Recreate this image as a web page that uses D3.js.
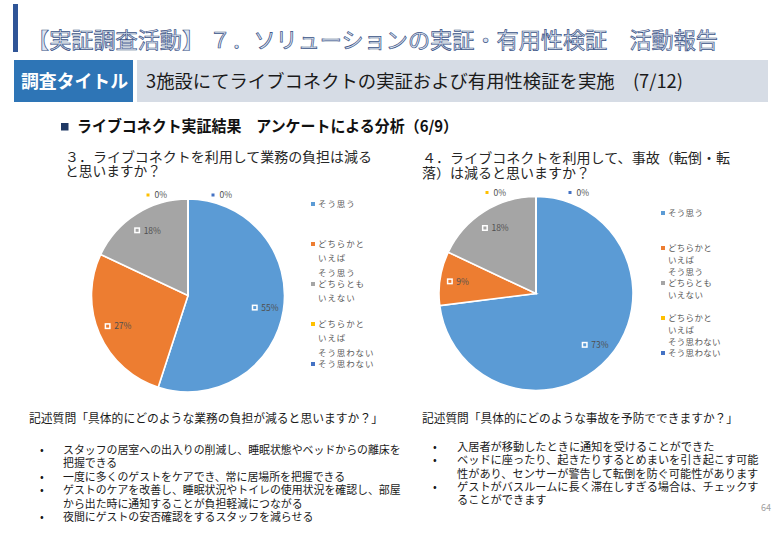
<!DOCTYPE html>
<html><head><meta charset="utf-8">
<script src="https://cdn.jsdelivr.net/npm/d3@7/dist/d3.min.js"></script>
<style>
html,body{margin:0;padding:0;background:#fff;}
svg{display:block;font-family:"Noto Sans CJK JP","Noto Sans",sans-serif;}
</style></head>
<body>
<svg id="chart" width="780" height="540"></svg>
<script>
// ---- data ----
const categories = ["そう思う","どちらかといえばそう思う","どちらともいえない","どちらかといえばそう思わない","そう思わない"];
const legendLines = [["そう思う"],["どちらかと","いえば","そう思う"],["どちらとも","いえない"],["どちらかと","いえば","そう思わない"],["そう思わない"]];
const q3Values = [55, 27, 18, 0, 0];
const q4Values = [73, 9, 18, 0, 0];
const colors = ["#5b9bd5","#ed7d31","#a5a5a5","#ffc000","#4472c4"];
const pageTitle = "【実証調査活動】 ７．ソリューションの実証・有用性検証　活動報告";
const tagLabel = "調査タイトル";
const surveyTitle = "3施設にてライブコネクトの実証および有用性検証を実施　(7/12)";
const sectionTitle = "ライブコネクト実証結果　アンケートによる分析（6/9）";
const q3Lines = ["３．ライブコネクトを利用して業務の負担は減る","と思いますか？"];
const q4Lines = ["４．ライブコネクトを利用して、事故（転倒・転","落）は減ると思いますか？"];
const q3Free = "記述質問「具体的にどのような業務の負担が減ると思いますか？」";
const q4Free = "記述質問「具体的にどのような事故を予防でできますか？」";
const q3Bullets = [
  ["スタッフの居室への出入りの削減し、睡眠状態やベッドからの離床を","把握できる"],
  ["一度に多くのゲストをケアでき、常に居場所を把握できる"],
  ["ゲストのケアを改善し、睡眠状況やトイレの使用状況を確認し、部屋","から出た時に通知することが負担軽減につながる"],
  ["夜間にゲストの安否確認をするスタッフを減らせる"]
];
const q4Bullets = [
  ["入居者が移動したときに通知を受けることができた"],
  ["ベッドに座ったり、起きたりするとめまいを引き起こす可能","性があり、センサーが警告して転倒を防ぐ可能性があります"],
  ["ゲストがバスルームに長く滞在しすぎる場合は、チェックす","ることができます"]
];
const pageNumber = "64";

// ---- drawing ----
const svg = d3.select("#chart");

// header
svg.append("rect").attr("x",13).attr("y",4).attr("width",5).attr("height",48).attr("fill","#2f5597");
svg.append("text").attr("x",27).attr("y",48).attr("font-size",22)
  .attr("textLength",691).attr("lengthAdjust","spacingAndGlyphs")
  .attr("fill","#dde5f2").attr("stroke","#3a5386").attr("stroke-width",0.7)
  .text(pageTitle);

svg.append("rect").attr("x",14).attr("y",60).attr("width",119).attr("height",42).attr("fill","#2e75b6");
svg.append("text").attr("x",21).attr("y",88).attr("font-size",18).attr("font-weight","bold")
  .attr("fill","#fff").attr("textLength",107).attr("lengthAdjust","spacingAndGlyphs").text(tagLabel);
svg.append("rect").attr("x",137).attr("y",60).attr("width",631).attr("height",42).attr("fill","#d6dce5");
svg.append("text").attr("x",146).attr("y",88).attr("font-size",18).attr("fill","#1a1a1a")
  .attr("textLength",537).attr("lengthAdjust","spacingAndGlyphs").text(surveyTitle);

svg.append("rect").attr("x",61).attr("y",123).attr("width",7.5).attr("height",7.5).attr("fill","#1f3864");
svg.append("text").attr("x",77).attr("y",132).attr("font-size",15.5).attr("font-weight","bold").attr("fill","#111")
  .attr("textLength",381).attr("lengthAdjust","spacingAndGlyphs").text(sectionTitle);

// questions
function question(lines, x, ys, widths){
  lines.forEach((t,i)=>{
    svg.append("text").attr("x",x).attr("y",ys[i]).attr("font-size",13.5).attr("fill","#262626")
      .attr("textLength",widths[i]).attr("lengthAdjust","spacingAndGlyphs").text(t);
  });
}
question(q3Lines, 65, [162,176], [307, 96]);
question(q4Lines, 422, [163,178], [308, 168]);

// pies
const pie = d3.pie().sort(null).value(d=>d);
function drawPie(values, opt){
  const g = svg.append("g").attr("transform",`translate(${opt.cx},${opt.cy})`);
  const arc = d3.arc().innerRadius(0).outerRadius(opt.r);
  const labelArc = d3.arc().innerRadius(opt.r*0.8).outerRadius(opt.r*0.8);
  const arcs = pie(values);
  g.selectAll("path").data(arcs).join("path")
    .attr("d",arc).attr("fill",(d,i)=>colors[i])
    .attr("stroke","#fff").attr("stroke-width",1.6);
  let zeroIdx = 0;
  arcs.forEach((d,i)=>{
    let x, y;
    if (d.value === 0) {
      x = opt.zeroOffsets[zeroIdx++];
      y = -opt.r - 4;
    } else {
      const c = labelArc.centroid(d);
      x = c[0] - 9.5; y = c[1];
    }
    const lg = g.append("g").attr("transform",`translate(${x},${y})`);
    lg.append("rect").attr("x",-3).attr("y",-3).attr("width",6).attr("height",6).attr("fill","#fff");
    lg.append("rect").attr("x",-1.5).attr("y",-1.5).attr("width",3).attr("height",3).attr("fill",colors[i]);
    lg.append("text").attr("x",6.5).attr("y",3.2).attr("font-size",8.5).attr("fill","#505050")
      .text(d.value + "%");
  });
  // legend
  const leg = svg.append("g");
  categories.forEach((c,i)=>{
    const y0 = opt.legY + i*opt.legStep;
    leg.append("rect").attr("x",opt.legX-2).attr("y",y0-2).attr("width",4).attr("height",4).attr("fill",colors[i]);
    legendLines[i].forEach((t,j)=>{
      leg.append("text").attr("x",opt.legX+5).attr("y",y0+3+j*opt.lineH)
        .attr("font-size",opt.legFont).attr("letter-spacing",opt.legSpacing).attr("fill","#595959").text(t);
    });
  });
}
drawPie(q3Values, {cx:188, cy:295.5, r:96.5, zeroOffsets:[-40,25],
  legX:313, legY:204, legStep:40, lineH:14.3, legFont:8.5, legSpacing:0.9});
drawPie(q4Values, {cx:536, cy:293.5, r:97, zeroOffsets:[-49,34],
  legX:663, legY:213, legStep:35, lineH:11.8, legFont:8.5, legSpacing:0.3});

// free answers
function freeBlock(title, bullets, o){
  svg.append("text").attr("x",o.x).attr("y",o.titleY).attr("font-size",12).attr("fill","#1a1a1a")
    .attr("textLength",o.titleW).attr("lengthAdjust","spacingAndGlyphs").text(title);
  let row = 0;
  bullets.forEach(item=>{
    item.forEach((t,j)=>{
      const y = o.y0 + row*o.lineH + 4;
      if (j===0) svg.append("text").attr("x",o.bx).attr("y",y).attr("font-size",11).attr("fill","#1a1a1a").text("•");
      svg.append("text").attr("x",o.tx).attr("y",y).attr("font-size",o.font).attr("fill","#1a1a1a").text(t);
      row++;
    });
  });
}
freeBlock(q3Free, q3Bullets, {x:29, titleY:423, titleW:354, bx:40, tx:63, y0:450, lineH:13.4, font:10.9});
freeBlock(q4Free, q4Bullets, {x:422, titleY:423, titleW:316, bx:433, tx:457, y0:447, lineH:13.3, font:11.2});

svg.append("text").attr("x",771).attr("y",511).attr("text-anchor","end").attr("font-size",9).attr("fill","#a0a0a0").text(pageNumber);
</script>
</body></html>
